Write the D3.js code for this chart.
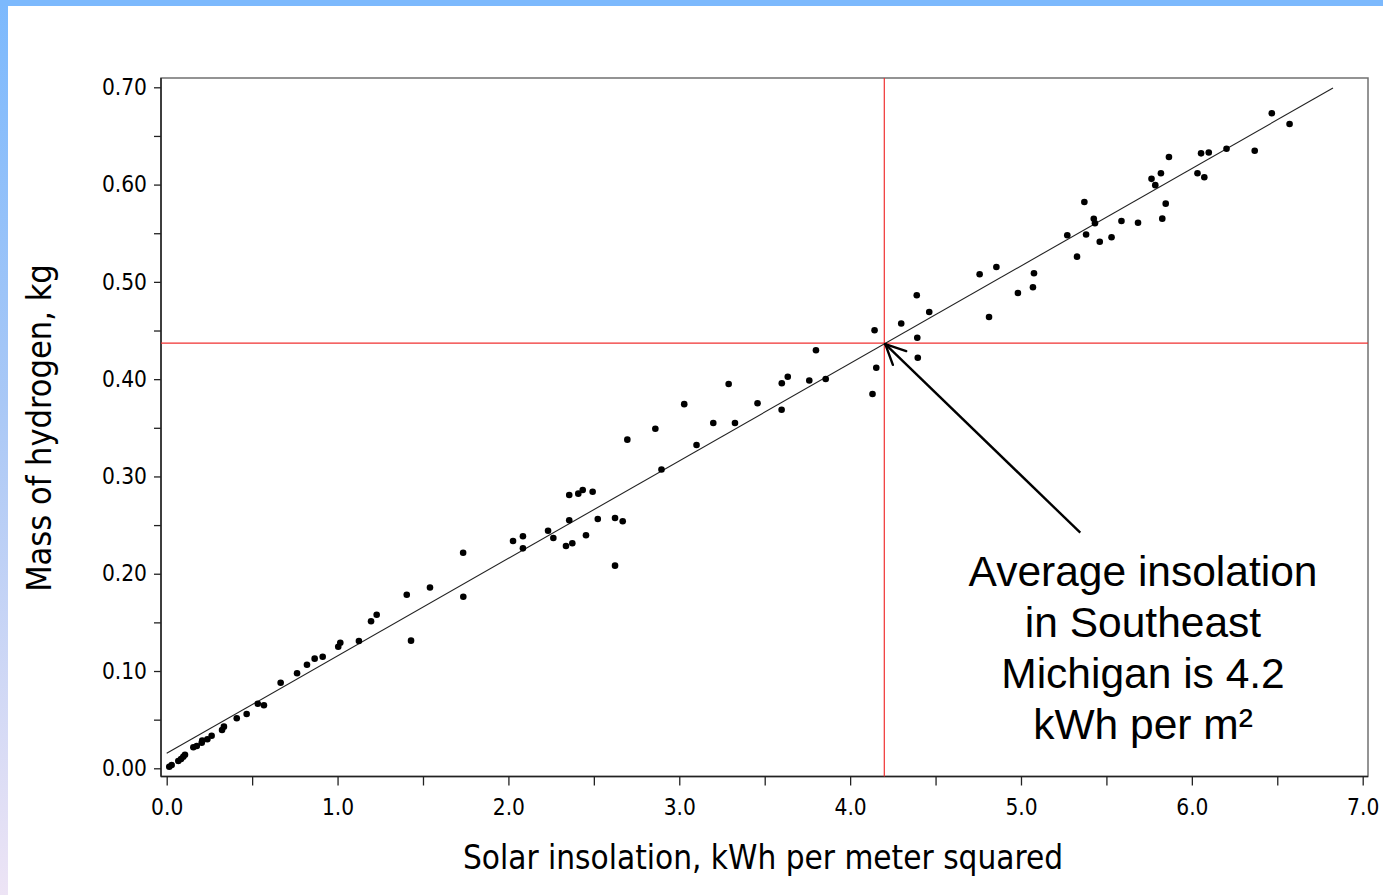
<!DOCTYPE html>
<html><head><meta charset="utf-8">
<script src="https://cdn.jsdelivr.net/npm/d3@7"></script>
<style>html,body{margin:0;padding:0;background:#fff;overflow:hidden}</style>
</head><body><svg id="c" width="1383" height="895"></svg>
<script>
// ---- data ----
const insolation = [0.015,0.029,0.068,0.084,0.097,0.107,0.156,0.176,0.205,0.208,0.238,0.263,0.324,0.335,0.410,0.468,0.533,0.569,0.667,0.763,0.821,0.866,0.913,1.004,1.016,1.125,1.196,1.229,1.405,1.430,1.541,1.735,1.736,2.027,2.085,2.085,2.232,2.263,2.356,2.356,2.337,2.374,2.409,2.435,2.454,2.493,2.523,2.624,2.669,2.624,2.696,2.860,2.896,3.029,3.101,3.199,3.289,3.326,3.458,3.599,3.600,3.635,3.761,3.800,3.857,4.131,4.143,4.153,4.299,4.390,4.393,4.396,4.463,4.758,4.813,4.856,4.982,5.070,5.076,5.271,5.328,5.371,5.381,5.426,5.433,5.461,5.530,5.588,5.685,5.764,5.786,5.819,5.827,5.847,5.866,6.033,6.054,6.073,6.099,6.203,6.368,6.468,6.572];
const hydrogen = [0.0016,0.0034,0.0075,0.0096,0.0119,0.0140,0.0216,0.0229,0.0263,0.0284,0.0298,0.0335,0.0394,0.0428,0.0514,0.0558,0.0664,0.0648,0.0880,0.0977,0.1065,0.1127,0.1147,0.1250,0.1291,0.1309,0.1511,0.1579,0.1784,0.1312,0.1858,0.2216,0.1764,0.2336,0.2385,0.2261,0.2442,0.2367,0.2809,0.2549,0.2285,0.2313,0.2823,0.2861,0.2395,0.2843,0.2563,0.2573,0.2539,0.2083,0.3378,0.3491,0.3071,0.3743,0.3323,0.3550,0.3950,0.3549,0.3753,0.3685,0.3958,0.4025,0.3986,0.4297,0.4002,0.3847,0.4502,0.4118,0.4572,0.4862,0.4425,0.4220,0.4690,0.5078,0.4639,0.5153,0.4886,0.4945,0.5089,0.5479,0.5259,0.5821,0.5487,0.5648,0.5602,0.5413,0.5458,0.5626,0.5607,0.6059,0.5994,0.6117,0.5650,0.5804,0.6284,0.6117,0.6321,0.6075,0.6330,0.6369,0.6348,0.6733,0.6623];
const fitX = [0, 6.826];
const fitY = [0.0154, 0.6993];
const refInsolation = 4.2;
const refHydrogen = 0.437;
const arrowTail = [5.347, 0.2422];
const xTicks = [0,0.5,1,1.5,2,2.5,3,3.5,4,4.5,5,5.5,6,6.5,7];
const xTickLabels = ["0.0","1.0","2.0","3.0","4.0","5.0","6.0","7.0"];
const yTicks = [0,0.05,0.1,0.15,0.2,0.25,0.3,0.35,0.4,0.45,0.5,0.55,0.6,0.65,0.7];
const yTickLabels = ["0.00","0.10","0.20","0.30","0.40","0.50","0.60","0.70"];
const xTitle = "Solar insolation, kWh per meter squared";
const yTitle = "Mass of hydrogen, kg";
const noteLines = ["Average insolation","in Southeast","Michigan is 4.2","kWh per m\u00B2"];

// ---- layout ----
const svg = d3.select("#c");
const W = 1383, H = 895;
const frame = {l:161, r:1368, t:78, b:776.5};
const x = d3.scaleLinear().domain([0,7]).range([166.7,1362.7]);
const y = d3.scaleLinear().domain([0,0.7]).range([768.3,87.3]);

const defs = svg.append("defs");
const g = defs.append("linearGradient").attr("id","lg").attr("x1",0).attr("y1",0).attr("x2",0).attr("y2",1);
g.append("stop").attr("offset","0%").attr("stop-color","#7cb9fd");
g.append("stop").attr("offset","45%").attr("stop-color","#a9c8f6");
g.append("stop").attr("offset","100%").attr("stop-color","#ede4f5");

svg.append("rect").attr("width",W).attr("height",H).attr("fill","#fff");
svg.append("rect").attr("x",0).attr("y",0).attr("width",8).attr("height",H).attr("fill","url(#lg)");
svg.append("rect").attr("x",0).attr("y",0).attr("width",W).attr("height",6).attr("fill","#7cb9fd");

// frame
svg.append("rect").attr("x",frame.l).attr("y",frame.t).attr("width",frame.r-frame.l).attr("height",frame.b-frame.t)
  .attr("fill","none").attr("stroke","#707070").attr("stroke-width",1.5);
svg.append("line").attr("x1",frame.l).attr("x2",frame.l).attr("y1",frame.t).attr("y2",frame.b).attr("stroke","#222").attr("stroke-width",1.5);
svg.append("line").attr("x1",frame.l).attr("x2",frame.r).attr("y1",frame.b).attr("y2",frame.b).attr("stroke","#222").attr("stroke-width",1.5);

const tickFont = "'DejaVu Sans Condensed','DejaVu Sans',sans-serif";
const fmtX = d => { const s = d.toFixed(1); return xTickLabels.includes(s) && Number.isInteger(d) ? s : ""; };
const fmtY = d => { const s = d.toFixed(2); return yTickLabels.includes(s) && Math.abs(d*10 - Math.round(d*10))<1e-9 ? s : ""; };

const xa = svg.append("g").attr("transform",`translate(0,${frame.b})`)
  .call(d3.axisBottom(x).tickValues(xTicks).tickFormat(fmtX).tickSize(9).tickPadding(14));
const ya = svg.append("g").attr("transform",`translate(${frame.l},0)`)
  .call(d3.axisLeft(y).tickValues(yTicks).tickFormat(fmtY).tickSize(7).tickPadding(7));
[xa,ya].forEach(a=>{
  a.select(".domain").remove();
  a.selectAll("line").attr("stroke","#222").attr("stroke-width",1.3);
  a.selectAll("text").attr("font-family",tickFont).attr("font-size",22.5).attr("fill","#000");
});

// red reference lines
svg.append("line").attr("x1",x(refInsolation)).attr("x2",x(refInsolation)).attr("y1",frame.t).attr("y2",frame.b)
  .attr("stroke","#f03030").attr("stroke-width",1.2);
svg.append("line").attr("x1",frame.l).attr("x2",frame.r).attr("y1",y(refHydrogen)).attr("y2",y(refHydrogen))
  .attr("stroke","#f03030").attr("stroke-width",1.2);

// fit line
svg.append("line").attr("x1",x(fitX[0])).attr("y1",y(fitY[0])).attr("x2",x(fitX[1])).attr("y2",y(fitY[1]))
  .attr("stroke","#222").attr("stroke-width",1.1);

// points
svg.append("g").selectAll("circle").data(insolation.map((v,i)=>[v,hydrogen[i]])).join("circle")
  .attr("cx",d=>x(d[0])).attr("cy",d=>y(d[1])).attr("r",3.3).attr("fill","#000");

// arrow
const tx = x(refInsolation), ty = y(refHydrogen), sx = x(arrowTail[0]), sy = y(arrowTail[1]);
svg.append("line").attr("x1",sx).attr("y1",sy).attr("x2",tx+1).attr("y2",ty+1).attr("stroke","#000").attr("stroke-width",2.4);
const ang = Math.atan2(sy-ty, sx-tx);
[0.45,-0.45].forEach(da=>{
  svg.append("line").attr("x1",tx+1).attr("y1",ty+1)
    .attr("x2",tx+1+22*Math.cos(ang+da)).attr("y2",ty+1+22*Math.sin(ang+da))
    .attr("stroke","#000").attr("stroke-width",2.4).attr("stroke-linecap","round");
});

// annotation
const note = svg.append("text").attr("font-family","'Liberation Sans',Arial,sans-serif").attr("font-size",42.5)
  .attr("fill","#000").attr("text-anchor","middle");
noteLines.forEach((t,i)=>note.append("tspan").attr("x",1143).attr("y",586+i*51).text(t));

// titles
svg.append("text").attr("x",763).attr("y",869).attr("text-anchor","middle")
  .attr("font-family",tickFont).attr("font-size",33).attr("fill","#000").text(xTitle);
svg.append("text").attr("transform","translate(51,428) rotate(-90)").attr("text-anchor","middle")
  .attr("font-family",tickFont).attr("font-size",34).attr("fill","#000").text(yTitle);
</script></body></html>
